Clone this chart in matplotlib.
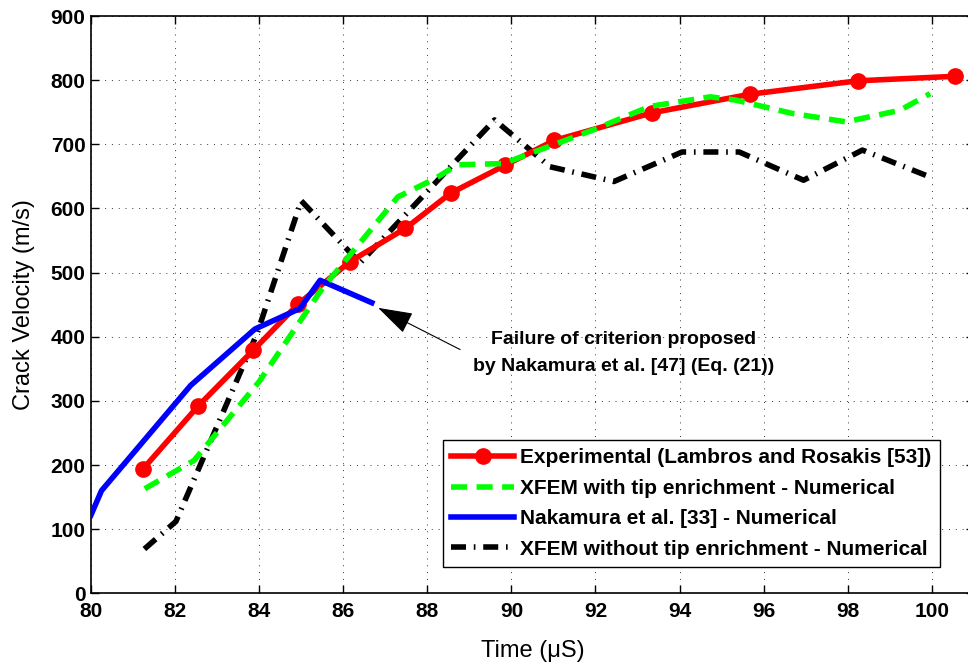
import numpy as np
import matplotlib
matplotlib.use('Agg')
import matplotlib.pyplot as plt

plt.rcParams['font.family'] = ['Liberation Sans', 'DejaVu Sans']

# experimental (Lambros and Rosakis)
exp_t = [81.24, 82.55, 83.86, 84.93, 86.16, 87.48, 88.56, 89.84, 91.02, 93.34, 95.67, 98.24, 100.55]
exp_v = [194, 292, 379, 451, 517, 569, 624, 667, 706, 749, 778, 799, 806]

# XFEM with tip enrichment
xt_t = [81.28, 82.45, 84.0, 85.5, 87.3, 88.2, 88.71, 89.81, 91.93, 93.29, 94.73, 95.33, 96.69, 97.96, 99.24, 99.96]
xt_v = [163, 207, 330, 475, 618, 647, 668, 670, 722, 759, 774, 769, 748, 735, 753, 779]

# Nakamura et al.
nk_t = [80.0, 80.25, 82.37, 83.9, 84.97, 85.45, 86.68]
nk_v = [122, 160, 324, 412, 444, 488, 453]

# XFEM without tip enrichment
xn_t = [81.27, 82.02, 83.95, 85.0, 86.4, 89.6, 90.92, 92.44, 94.06, 95.42, 96.95, 98.35, 99.96]
xn_v = [69, 112, 405, 612, 515, 738, 665, 642, 688, 688, 644, 691, 649]

fig = plt.figure(figsize=(9.68, 6.62), dpi=100)
ax = fig.add_axes([0.094, 0.1038, 0.912, 0.872])

ax.plot(exp_t, exp_v, color='red', lw=4, marker='o', ms=11,
        label='Experimental (Lambros and Rosakis [53])', zorder=3)
ax.plot(xt_t, xt_v, color='#00ff00', lw=4, ls=(0, (2.9, 1.7)),
        label='XFEM with tip enrichment - Numerical', zorder=4)
ax.plot(nk_t, nk_v, color='blue', lw=4,
        label='Nakamura et al. [33] - Numerical', zorder=3)
ax.plot(xn_t, xn_v, color='black', lw=4, ls=(0, (2.7, 1.4, 0.3, 1.4)),
        label='XFEM without tip enrichment - Numerical', zorder=2)

ax.set_xlim(80, 101)
ax.set_ylim(0, 900)
ax.set_xticks(np.arange(80, 101, 2))
ax.set_yticks(np.arange(0, 901, 100))
ax.grid(True, color='black', ls=(0, (1, 6)), lw=0.7, alpha=0.8)
ax.tick_params(direction='in', length=6, width=1, top=True, right=True,
               labelsize=15)
ax.tick_params(axis='x', pad=6)
ax.tick_params(axis='y', pad=4)
for lbl in ax.get_xticklabels() + ax.get_yticklabels():
    lbl.set_fontweight('bold')
for s in ax.spines.values():
    s.set_linewidth(1.2)

ax.set_xlabel('Time (\u03bcS)', fontsize=17, labelpad=14)
ax.set_ylabel('Crack Velocity (m/s)', fontsize=17, labelpad=11)

ax.annotate('', xy=(86.83, 445), xytext=(88.78, 380),
            arrowprops=dict(arrowstyle='-|>,head_length=1.1,head_width=0.35',
                            color='black', lw=0.8, mutation_scale=20,
                            shrinkA=0, shrinkB=0))
ax.text(92.68, 375, 'Failure of criterion proposed\nby Nakamura et al. [47] (Eq. (21))',
        ha='center', va='center', fontsize=14, fontweight='bold',
        linespacing=1.75)

leg = ax.legend(loc='upper right', bbox_to_anchor=(0.9615, 0.2655),
                prop={'size': 15, 'weight': 'bold'},
                fancybox=False, framealpha=1, edgecolor='black',
                handlelength=3.0, borderpad=0.4, labelspacing=0.55,
                handletextpad=0.3, borderaxespad=0)
leg.get_frame().set_linewidth(1.0)

fig.savefig('out.png', dpi=100)
